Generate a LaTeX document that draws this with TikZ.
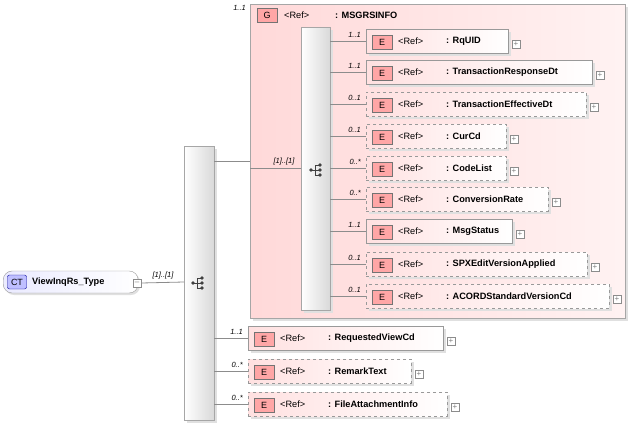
\documentclass[tikz,border=0pt]{standalone}
\usepackage{fontspec}
\setmainfont{Liberation Sans}
\begin{document}
\begin{tikzpicture}[x=1pt,y=-1pt,
  lbl/.style={font=\fontsize{7.5}{8}\selectfont\itshape,inner sep=0pt},
  txt/.style={font=\fontsize{9.2}{10}\selectfont,inner sep=0pt,anchor=west},
  btxt/.style={font=\fontsize{9.2}{10}\selectfont\bfseries,inner sep=0pt,anchor=west},
  badge/.style={draw=black!55,fill=red!35,minimum width=20pt,minimum height=14pt,inner sep=0pt,font=\fontsize{9}{10}\selectfont},
  con/.style={draw=black!45,line width=0.8pt},
  pm/.style={draw=black!45,fill=white,minimum size=8pt,inner sep=0pt,font=\fontsize{8}{8}\selectfont\color{black!50}},
  bar/.style={draw=black!35,left color=white,right color=black!15}]
\useasboundingbox (0,0) rectangle (630,424);
% root
\fill[black!12,rounded corners=9pt] (5,273) rectangle (140,295);
\node[draw=black!40,rounded corners=9pt,left color=blue!8,right color=white,minimum width=135pt,minimum height=22pt,anchor=west,inner sep=0] (ct) at (3,282) {};
\node[draw=blue!60!black,fill=blue!25,rounded corners=2pt,minimum width=19pt,minimum height=14pt,inner sep=0,font=\fontsize{9}{10}\selectfont] (ctb) at (17,282) {CT};
\node[btxt] (ctt) at (32,282) {ViewInqRs\_Type};
\node[pm] (ctm) at (137,283) {--};
% outer sequence
\fill[black!12] (187,149) rectangle (217,423);
\node[bar,minimum width=30pt,minimum height=274pt,anchor=north west,inner sep=0] (s1) at (184,146) {};
\draw[con] (ctm.east) -- (184,282) coordinate (s1in);
\node[lbl,anchor=south] (l0) at (163,279) {[1]..[1]};
\begin{scope}[shift={(199,283)}]
\fill[black!75] (-6,0) circle (1.8);
\draw[black!75,line width=0.8pt] (-6,0)--(-2,0) (-2,-5)--(-2,5) (-2,-5)--(3,-5) (-2,0)--(3,0) (-2,5)--(3,5);
\fill[black!75] (3,-5) circle (1.8) (3,0) circle (1.8) (3,5) circle (1.8);
\end{scope}
% group
\fill[black!12] (253,7) rectangle (628,321);
\node[draw=black!35,left color=red!15,right color=red!5,minimum width=375pt,minimum height=314pt,anchor=north west,inner sep=0] (grp) at (250,4) {};
\node[lbl,anchor=east] (gl) at (246,8) {1..1};
\node[badge] (gb) at (267,15) {G};
\node[txt] (gr) at (284,15) {<Ref>};
\node[btxt] (gn) at (335,15) {: MSGRSINFO};
\draw[con] (214,161) -- (250,161);
% inner seq
\fill[black!12] (304,30) rectangle (333,313);
\node[bar,minimum width=29pt,minimum height=283pt,anchor=north west,inner sep=0] (s2) at (301,27) {};
\draw[con] (250,168) -- (301,168);
\node[lbl,anchor=south] (l1) at (284,165) {[1]..[1]};
\begin{scope}[shift={(317,170)}]
\fill[black!75] (-6,0) circle (1.8);
\draw[black!75,line width=0.8pt] (-6,0)--(-2,0) (-2,-5)--(-2,5) (-2,-5)--(3,-5) (-2,0)--(3,0) (-2,5)--(3,5);
\fill[black!75] (3,-5) circle (1.8) (3,0) circle (1.8) (3,5) circle (1.8);
\end{scope}
\newcommand{\elem}[7]{%
  \fill[black!12] (#2+3,#3-9) rectangle (#2+#4+3,#3+15);
  \node[draw=black!40,#6,left color=red!12,right color=white,minimum width=#4 pt,minimum height=24pt,anchor=west,inner sep=0] (#1) at (#2,#3) {};
  \node[badge] (#1b) at (#2+16,#3+1) {E};
  \node[txt] (#1r) at (#2+32,#3) {<Ref>};
  \node[btxt] (#1n) at (#2+80,#3) {: #7};
  \node[pm] (#1p) at (#2+#4+8,#3+3) {+};
  \draw[con] (#5-36,#3) -- (#1.west);
}
\newcommand{\card}[3]{\node[lbl,anchor=south east] at (#1-5,#2-3) {#3};}
\elem{e1}{366}{41}{142}{366}{solid}{RqUID}\card{366}{41}{1..1}
\elem{e2}{366}{72}{226}{366}{solid}{TransactionResponseDt}\card{366}{72}{1..1}
\elem{e3}{366}{104}{220}{366}{dashed}{TransactionEffectiveDt}\card{366}{104}{0..1}
\elem{e4}{366}{136}{140}{366}{dashed}{CurCd}\card{366}{136}{0..1}
\elem{e5}{366}{168}{140}{366}{dashed}{CodeList}\card{366}{168}{0..*}
\elem{e6}{366}{199}{182}{366}{dashed}{ConversionRate}\card{366}{199}{0..*}
\elem{e7}{366}{231}{146}{366}{solid}{MsgStatus}\card{366}{231}{1..1}
\elem{e8}{366}{264}{221}{366}{dashed}{SPXEditVersionApplied}\card{366}{264}{0..1}
\elem{e9}{366}{296}{243}{366}{dashed}{ACORDStandardVersionCd}\card{366}{296}{0..1}
\elem{f1}{248}{338}{195}{250}{solid}{RequestedViewCd}\card{248}{338}{1..1}
\elem{f2}{248}{371}{163}{250}{dashed}{RemarkText}\card{248}{371}{0..*}
\elem{f3}{248}{404}{199}{250}{dashed}{FileAttachmentInfo}\card{248}{404}{0..*}
\end{tikzpicture}
\end{document}
